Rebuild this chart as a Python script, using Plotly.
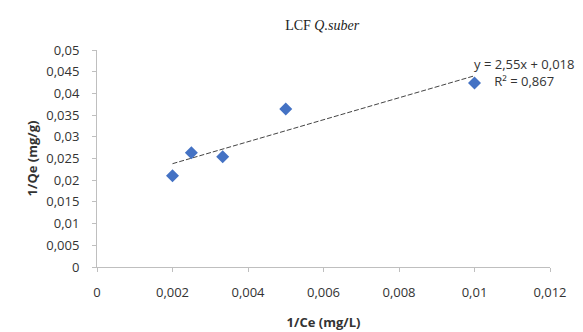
import numpy as np
import plotly.graph_objects as go

inv_ce = [0.002, 0.0025, 0.00333, 0.005, 0.01]
inv_qe = [0.021, 0.0263, 0.0254, 0.0364, 0.0424]

slope, intercept = np.polyfit(inv_ce, inv_qe, 1)
fit_x = [min(inv_ce), max(inv_ce)]
fit_y = [slope * v + intercept for v in fit_x]

fig = go.Figure()
fig.add_trace(go.Scatter(x=fit_x, y=fit_y, mode="lines",
                         line=dict(color="#444444", width=1, dash="5px,2px"),
                         showlegend=False, hoverinfo="skip"))
fig.add_trace(go.Scatter(x=inv_ce, y=inv_qe, mode="markers",
                         marker=dict(symbol="diamond", size=10, color="#4472C4"),
                         showlegend=False))

axis_font = dict(family="Open Sans, Liberation Sans, sans-serif", size=13, color="#333333")
fig.update_layout(
    width=583, height=332,
    margin=dict(l=97, r=33, t=50, b=65),
    paper_bgcolor="white", plot_bgcolor="white",
    separators=", ",
    title=dict(text="LCF <i>Q.suber</i>", x=0.497, xref="paper", xanchor="center",
               y=0.94, yref="container",
               font=dict(family="Liberation Serif, Times New Roman, serif", size=14, color="#222222")),
    xaxis=dict(range=[0, 0.012], dtick=0.002, tick0=0, showgrid=False, zeroline=False,
               showline=True, linecolor="#BFBFBF", linewidth=1, automargin=False,
               ticks="outside", ticklen=4, tickcolor="#BFBFBF",
               tickfont=axis_font, ticklabelstandoff=9,
               title=dict(text="<b>1/Ce (mg/L)</b>", font=axis_font, standoff=18)),
    yaxis=dict(range=[0, 0.05], dtick=0.005, tick0=0, showgrid=False, zeroline=False,
               showline=True, linecolor="#BFBFBF", linewidth=1, automargin=False,
               ticks="outside", ticklen=4, tickcolor="#BFBFBF",
               tickfont=axis_font, ticklabelstandoff=10,
               title=dict(text="<b>1/Qe (mg/g)</b>", font=axis_font, standoff=5)),
)
fig.add_annotation(x=0.0113, y=0.0449, xref="x", yref="y",
                   text="y = 2,55x + 0,018<br>R² = 0,867", showarrow=False,
                   align="center", font=axis_font)
fig.write_html("out.html")
